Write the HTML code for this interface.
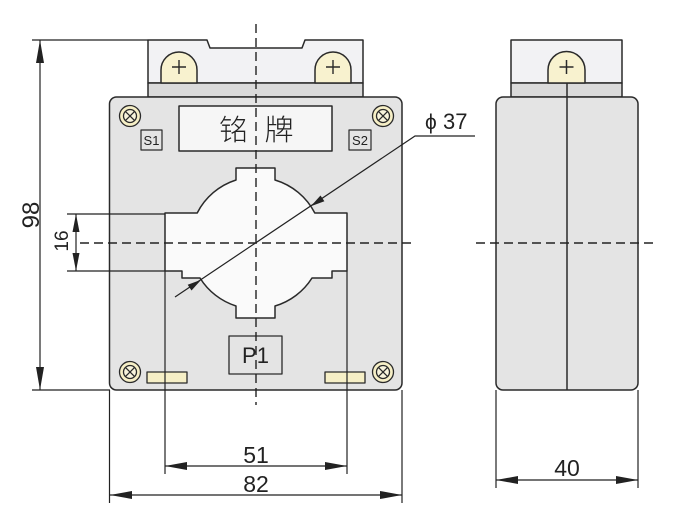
<!DOCTYPE html>
<html><head><meta charset="utf-8"><style>
html,body{margin:0;padding:0;background:#fff;}
svg{display:block;}
text{font-family:"Liberation Sans","Noto Sans CJK SC",sans-serif;fill:#222;}
</style></head><body>
<svg width="680" height="531" viewBox="0 0 680 531" xmlns="http://www.w3.org/2000/svg">
<g stroke="#2a2a2a" stroke-width="1.5" stroke-linejoin="round">
<!-- FRONT VIEW -->
<path d="M148,83 V40 H207 L210,48 H302 L305,40 H363 V83 Z" fill="#f2f2f4"/>
<rect x="148" y="83" width="215" height="14" fill="#dadada"/>
<path d="M161,83 V70 A18,18 0 0 1 197,70 V83 Z" fill="#f8f2cf"/>
<path d="M315,83 V70 A18,18 0 0 1 351,70 V83 Z" fill="#f8f2cf"/>
<rect x="109.5" y="97" width="292.5" height="293" rx="7" fill="#e4e4e4"/>
<rect x="179" y="106" width="153" height="45" fill="#f6f6f6"/>
<rect x="141" y="130" width="21" height="20" fill="#e4e4e4" stroke-width="1.2"/>
<rect x="349" y="130" width="22" height="20" fill="#e4e4e4" stroke-width="1.2"/>
<path d="M165,213 H197.2 A66,66 0 0 1 236,180 V168 H275 V180 A66,66 0 0 1 314.8,213 H347 V271 H332 V278 H312 A66,66 0 0 1 275,306 V318 H236 V306 A66,66 0 0 1 200,278 H182 V271 H165 Z" fill="#fafafa"/>
<rect x="229" y="336" width="53" height="38" fill="#e4e4e4" stroke-width="1.3"/>
<rect x="147" y="372" width="40" height="11" fill="#f6efc6" stroke-width="1.3"/>
<rect x="325" y="372" width="40" height="11" fill="#f6efc6" stroke-width="1.3"/>
</g>
<!-- plus signs -->
<g stroke="#2a2a2a" stroke-width="1.4">
<path d="M172,67 H186 M179,60 V74"/>
<path d="M326,67 H340 M333,60 V74"/>
</g>
<!-- screws -->
<g stroke="#2a2a2a" stroke-width="1.3" fill="#f6efc6">
<g transform="translate(130,116)"><circle r="10.5"/><circle r="6.5" fill="#f8f4dc"/><path d="M-4.6,-4.6 L4.6,4.6 M-4.6,4.6 L4.6,-4.6"/></g>
<g transform="translate(383,116)"><circle r="10.5"/><circle r="6.5" fill="#f8f4dc"/><path d="M-4.6,-4.6 L4.6,4.6 M-4.6,4.6 L4.6,-4.6"/></g>
<g transform="translate(130,372)"><circle r="10.5"/><circle r="6.5" fill="#f8f4dc"/><path d="M-4.6,-4.6 L4.6,4.6 M-4.6,4.6 L4.6,-4.6"/></g>
<g transform="translate(383,372)"><circle r="10.5"/><circle r="6.5" fill="#f8f4dc"/><path d="M-4.6,-4.6 L4.6,4.6 M-4.6,4.6 L4.6,-4.6"/></g>
</g>
<!-- SIDE VIEW -->
<g stroke="#2a2a2a" stroke-width="1.5" stroke-linejoin="round">
<rect x="511" y="40" width="111" height="43" fill="#f2f2f4"/>
<rect x="511" y="83" width="111" height="14" fill="#dadada"/>
<path d="M548,83 V70 A18.5,18.5 0 0 1 585,70 V83 Z" fill="#f8f2cf"/>
<rect x="496" y="97" width="142" height="293" rx="7" fill="#e4e4e4"/>
<path d="M567,83 V390" fill="none"/>
</g>
<g stroke="#2a2a2a" stroke-width="1.5"><path d="M559.5,67 H573.5 M566.5,60 V74"/></g>
<!-- center lines -->
<g stroke="#222" stroke-width="1.4" stroke-dasharray="9,5" fill="none">
<path d="M256,24 V405"/>
<path d="M80,243 H416"/>
<path d="M476,243 H654"/>
</g>
<!-- dimension lines -->
<g stroke="#222" stroke-width="1.2" fill="none">
<path d="M32,40 H148 M32,390 H110 M40,40 V390"/>
<path d="M67,214 H165 M67,271 H165 M76,214 V271"/>
<path d="M165,271 V474 M347,271 V474 M165,466 H347"/>
<path d="M109.5,390 V503 M402,390 V503 M110,495 H402"/>
<path d="M496,390 V488 M638,390 V488 M496,480 H638"/>
<path d="M175,297 L415,136 H475"/>
</g>
<g fill="#222" stroke="none">
<polygon points="40,40 36,63 44,63"/>
<polygon points="40,390 36,367 44,367"/>
<polygon points="76,214 72.5,232 79.5,232"/>
<polygon points="76,271 72.5,253 79.5,253"/>
<polygon points="165,466 187,462 187,470"/>
<polygon points="347,466 325,462 325,470"/>
<polygon points="110,495 132,491 132,499"/>
<polygon points="402,495 380,491 380,499"/>
<polygon points="496,480 518,476 518,484"/>
<polygon points="638,480 616,476 616,484"/>
<polygon points="310.8,206.2 320.5,195.5 324.4,201.3"/>
<polygon points="201.2,279.8 187.7,284.7 191.5,290.5"/>
</g>
<!-- text -->
<text x="233.5" y="140" font-size="29" text-anchor="middle" style="font-family:'Noto Sans CJK SC','WenQuanYi Zen Hei',sans-serif;font-weight:300">铭</text>
<text x="279" y="140" font-size="29" text-anchor="middle" style="font-family:'Noto Sans CJK SC','WenQuanYi Zen Hei',sans-serif;font-weight:300">牌</text>
<text x="151.5" y="145" font-size="13" text-anchor="middle">S1</text>
<text x="360" y="145" font-size="13" text-anchor="middle">S2</text>
<text x="255.5" y="363" font-size="22" text-anchor="middle">P1</text>
<text x="256" y="463" font-size="23" text-anchor="middle">51</text>
<text x="256" y="492" font-size="23" text-anchor="middle">82</text>
<text x="567" y="476" font-size="23" text-anchor="middle">40</text>
<text x="425" y="129" font-size="21">ϕ</text>
<text x="443" y="129" font-size="22">37</text>
<text transform="translate(39,215) rotate(-90)" font-size="24" text-anchor="middle">98</text>
<text transform="translate(68,241) rotate(-90)" font-size="19" text-anchor="middle">16</text>
</svg>
</body></html>
